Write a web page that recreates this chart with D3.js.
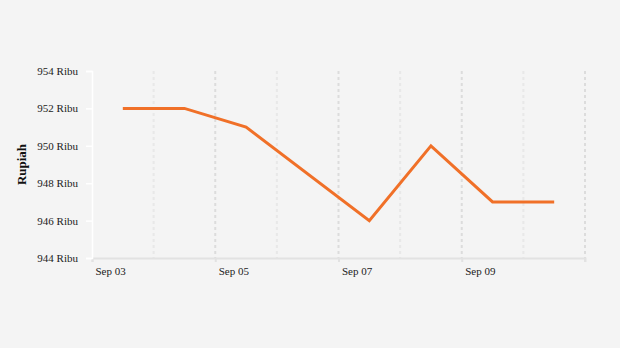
<!DOCTYPE html>
<html>
<head>
<meta charset="utf-8">
<script src="https://cdn.jsdelivr.net/npm/d3@7"></script>
<style>
  body { margin: 0; background: #f4f4f4; }
  svg { display: block; font-family: "Liberation Serif", "Times New Roman", serif; }
</style>
</head>
<body>
<div class="chart"></div>
<script>
var dates = ["2020-09-03T12:00", "2020-09-04T12:00", "2020-09-05T12:00", "2020-09-07T12:00",
             "2020-09-08T12:00", "2020-09-09T12:00", "2020-09-10T12:00"];
var prices = [952, 952, 951, 946, 950, 947, 947];
var yTicks = [944, 946, 948, 950, 952, 954];
var xTickDates = ["2020-09-03", "2020-09-05", "2020-09-07", "2020-09-09"];

var w = 620,
h = 348,
mLeft = 92, mRight = 585, mTop = 71, mBottom = 258;

var svg = d3.select(".chart")
  .append("svg")
  .attr("width", w)
  .attr("height", h);

svg.append("rect").attr("width", w).attr("height", h).attr("fill", "#f4f4f4");

var parse = d3.timeParse("%Y-%m-%dT%H:%M");
var parseDay = d3.timeParse("%Y-%m-%d");
var pts = dates.map((d, i) => ({ date: parse(d), value: prices[i] }));

var xScale = d3.scaleTime()
  .domain([new Date(2020, 8, 3), new Date(2020, 8, 11)])
  .range([mLeft, mRight]);

var yScale = d3.scaleLinear()
  .domain([944, 954])
  .range([mBottom, mTop]);

// vertical grid, every day (major every 2 days)
var days = d3.timeDay.range(new Date(2020, 8, 4), new Date(2020, 8, 12));
svg.append("g")
  .selectAll("line")
  .data(days)
  .enter()
  .append("line")
  .attr("x1", d => xScale(d))
  .attr("x2", d => xScale(d))
  .attr("y1", mTop)
  .attr("y2", mBottom)
  .attr("stroke", (d, i) => i % 2 ? "#dcdcdc" : "#e8e8e8")
  .attr("stroke-width", 2)
  .attr("stroke-dasharray", "3,3");

// x axis
var xAxis = d3.axisBottom(xScale)
  .tickValues(xTickDates.map(parseDay))
  .tickFormat(d3.timeFormat("Sep %d"))
  .tickSize(4);

var gx = svg.append("g")
  .attr("transform", "translate(0," + mBottom + ")")
  .call(xAxis);
gx.select(".domain").attr("stroke", "#e2e2e2").attr("stroke-width", 2);
gx.selectAll(".tick line").attr("stroke", "#e2e2e2").attr("stroke-width", 2);
gx.selectAll(".tick text")
  .attr("text-anchor", "start")
  .attr("x", 3)
  .attr("dy", "0.9em")
  .attr("font-size", 11)
  .attr("font-family", "Liberation Serif")
  .attr("fill", "#222");
// end tick at the right edge
gx.append("line")
  .attr("x1", mRight).attr("x2", mRight)
  .attr("y1", 0).attr("y2", 4)
  .attr("stroke", "#e2e2e2").attr("stroke-width", 2);

// y axis
var yAxis = d3.axisLeft(yScale)
  .tickValues(yTicks)
  .tickFormat(d => d + " Ribu")
  .tickSize(6)
  .tickPadding(8);

var gy = svg.append("g")
  .attr("transform", "translate(" + mLeft + ",0)")
  .call(yAxis);
gy.select(".domain").attr("stroke", "#ffffff").attr("stroke-width", 1.5);
gy.selectAll(".tick line").attr("stroke", "#ffffff").attr("stroke-width", 1.5);
gy.selectAll(".tick text")
  .attr("font-size", 11)
  .attr("font-family", "Liberation Serif")
  .attr("fill", "#222");

svg.append("text")
  .attr("transform", "translate(26," + ((mTop + mBottom) / 2) + ") rotate(-90)")
  .attr("text-anchor", "middle")
  .attr("font-size", 13)
  .attr("font-weight", "bold")
  .attr("fill", "#111")
  .text("Rupiah");

var line = d3.line()
  .x(d => xScale(d.date))
  .y(d => yScale(d.value));

svg.append("path")
  .datum(pts)
  .attr("d", line)
  .attr("fill", "none")
  .attr("stroke", "#f07028")
  .attr("stroke-width", 3);
</script>
</body>
</html>
